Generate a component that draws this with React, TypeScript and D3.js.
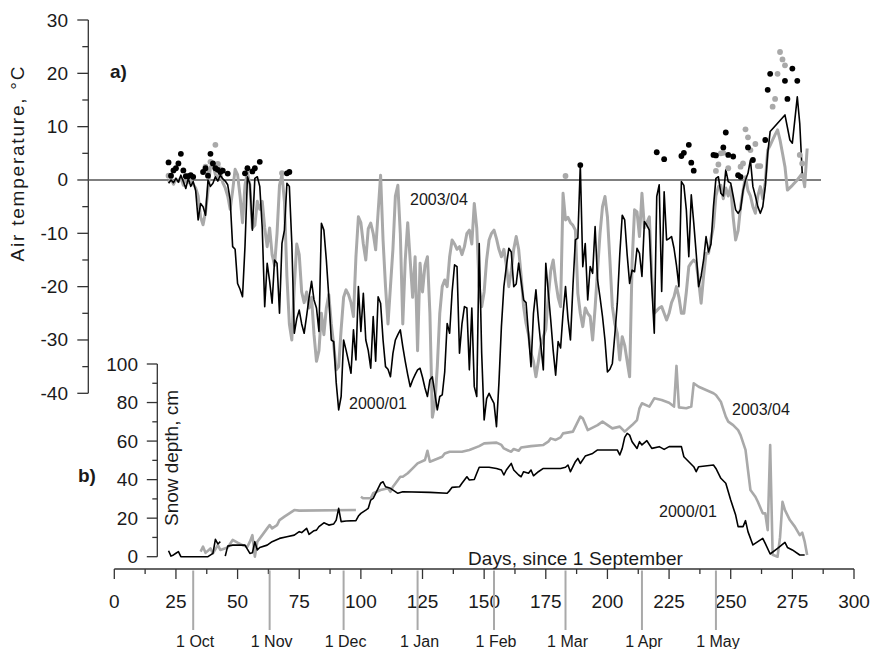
import React from 'react';
import * as d3 from 'd3';

type P = [number, number | null];

// ---------- axis / label data ----------
const xTicks = [0, 25, 50, 75, 100, 125, 150, 175, 200, 225, 250, 275, 300];
const tempTicks = [-40, -30, -20, -10, 0, 10, 20, 30];
const snowTicks = [0, 20, 40, 60, 80, 100];
const monthLabels = ['1 Oct', '1 Nov', '1 Dec', '1 Jan', '1 Feb', '1 Mar', '1 Apr', '1 May'];
const monthDays = [32, 63, 93, 123, 154, 183, 214, 244];

// ---------- air temperature, 2000/01 (black) ----------
const tempBlack: P[] = [
  [22, -0.6], [23, 0], [24, -0.5], [25, 0.3], [26, -0.4], [27, 0.9], [28, -0.3], [29, -1.6], [30, 0.3],
  [31, -1.2], [32, -0.3], [33, -2], [34, -7.5], [35, -4.4], [36, -5], [37, -6.6], [38, 0], [39, -1.2],
  [40, -0.6], [41, 0.6], [42, -0.2], [43, 0.9], [44, 0.2], [45, -0.2], [46, -0.9], [47, -3.75], [48, -12.5],
  [49, -13], [50, -19.4], [51, -20.5], [52, -21.9], [53, -12.5], [54, 0.6], [55, -0.8], [56, -9.4], [57, 0.3],
  [58, 0.6], [59, -1.2], [60, -9], [61, -23.75], [62, -15.6], [63, -19], [64, -23.1], [65, -15], [66, -15.6],
  [67, -25], [68, -11.9], [69, -9.4], [70, -0.6], [71, -1.2], [72, -11.9], [73, -28.75], [74, -26], [75, -24.4],
  [76, -27], [77, -28.75], [78, -25.5], [79, -22], [80, -19], [81, -22.5], [82, -24], [83, -28.4], [84, -8.1],
  [85, -9.4], [86, -15], [87, -21.9], [88, -30], [89, -30.3], [90, -38], [91, -43.1], [92, -40.6], [93, -30],
  [94, -31.9], [95, -34], [96, -36.25], [97, -28.1], [98, -33.75], [99, -20], [100, -28.4], [101, -21.25],
  [102, -30], [103, -32], [104, -35.3], [105, -25.6], [106, -34], [107, -21.9], [108, -23.1], [109, -30],
  [110, -35], [111, -35.5], [112, -36.9], [113, -32.5], [114, -30], [115, -29], [116, -28.1], [117, -31.25],
  [118, -34], [119, -36.5], [120, -38.75], [121, -37.5], [122, -36.5], [123, -35.6], [124, -35.3], [125, -37],
  [126, -39], [127, -40.6], [128, -37.5], [129, -36.9], [130, -40], [131, -43.1], [132, -40.6], [133, -40.3],
  [134, -36], [135, -26.9], [136, -28.75], [137, -21], [138, -15.9], [139, -16.25], [140, -32.5], [141, -27],
  [142, -23.75], [143, -24], [144, -35.6], [145, -24], [146, -38.75], [147, -40.6], [148, -11.9], [149, -32.5],
  [150, -45], [151, -41], [152, -40], [153, -41], [154, -41.9], [155, -46.25], [156, -38], [157, -27.5],
  [158, -20], [159, -16.25], [160, -12.8], [161, -13.5], [162, -20], [163, -19.5], [164, -15.6], [165, -19],
  [166, -22.5], [167, -23], [168, -29], [169, -35], [170, -25], [171, -20.6], [172, -26.25], [173, -31],
  [174, -35.6], [175, -15.6], [176, -21], [177, -26.25], [178, -32], [179, -36.6], [180, -30.3], [181, -31.5],
  [182, -25], [183, -20], [184, -26], [185, -30], [186, -20], [187, -11.25], [188, -10.9], [189, 2.8],
  [190, -16.25], [191, -11.9], [192, -22.5], [193, -16.25], [194, -17.5], [195, -8.75], [196, -18.75],
  [197, -22], [198, -25.6], [199, -30], [200, -36], [201, -35.5], [202, -34.4], [203, -29], [204, -23.1],
  [205, -14], [206, -6.6], [207, -7.5], [208, -14], [209, -19.4], [210, -16.9], [211, -17.2], [212, -12.8],
  [213, -13.75], [214, -18.1], [215, -7.8], [216, -8.5], [217, -9.4], [218, -20], [219, -28.75], [220, -3.1],
  [221, -0.9], [222, -20.9], [223, -2.2], [224, -11.25], [225, -11], [226, -10.6], [227, -12.8], [228, -16],
  [229, -20], [230, -0.3], [231, -1], [232, -5.6], [233, -14.4], [234, -2.8], [235, -8], [236, -13.75],
  [237, -20], [238, -18], [239, -15], [240, -10.6], [241, -13.5], [242, -12], [243, -5], [244, 0.3],
  [245, 0.6], [246, -2.5], [247, -3], [248, 1.9], [249, -0.3], [250, -0.6], [251, -3], [252, -5.6],
  [253, -6.25], [254, -5.5], [255, -2], [256, 0], [257, 1.25], [258, 3.75], [259, -1.25], [260, -3],
  [261, -5], [262, -6.25], [263, -5], [264, -1.25], [265, 5], [266, 9.1], [272, 12.2], [274, 7.5],
  [275, 6.9], [277, 15.6], [278, 10.6], [279, 1.25],
];

// ---------- air temperature, 2003/04 (grey) ----------
const tempGrey: P[] = [
  [22, -0.5], [23, 0.3], [24, -0.8], [25, 0.2], [26, -0.3], [27, 0.5], [28, -1], [29, 0.2], [30, -0.5],
  [31, 0], [32, -0.8], [33, -1.5], [34, -3], [35, -7], [36, -8.4], [37, -6], [38, -2], [39, 2.5], [40, 3],
  [41, 1], [42, 0.5], [43, 1.5], [44, -0.5], [45, -1.5], [46, -3], [47, -5.5], [48, -2], [49, 2], [50, 1],
  [51, -3], [52, -8], [53, -1], [54, 1.5], [55, -1], [56, -9], [57, -8.5], [58, -4], [59, -5.5], [60, -4],
  [61, -9], [62, -12.5], [63, -9], [64, -14], [65, -16], [66, -10], [67, -1], [68, 1], [69, -4], [70, -18],
  [71, -27], [72, -30], [73, -20], [74, -12], [75, -14], [76, -21], [77, -23], [78, -21], [79, -24], [80, -22],
  [81, -29], [82, -34], [83, -32], [84, -25], [85, -29], [86, -24], [87, -21.5], [88, -27], [89, -31],
  [90, -35.6], [91, -35], [92, -28], [93, -22], [94, -20.6], [95, -21.5], [96, -23], [97, -25.6], [98, -14.4],
  [99, -6.9], [100, -8], [101, -12], [102, -15], [103, -9.1], [104, -8.1], [105, -10], [106, -13.1], [107, -6],
  [108, 0.9], [109, -11.25], [110, -20], [111, -27], [112, -20], [113, -13], [114, -3], [115, -1], [116, -10],
  [117, -27], [118, -15], [119, -8], [120, -15], [121, -22], [122, -14.4], [123, -32], [124, -15.6], [125, -21],
  [126, -16], [127, -14.4], [128, -25], [129, -44.5], [130, -42], [131, -35], [132, -25], [133, -20],
  [134, -18.75], [135, -20], [136, -14.4], [137, -11.25], [138, -12], [139, -13], [140, -12.5], [141, -14],
  [142, -12.5], [143, -10], [144, -9.4], [145, -12], [146, -4.4], [147, -9], [148, -20], [149, -23.75],
  [150, -21], [151, -15], [152, -11.25], [153, -10], [154, -9.4], [155, -11], [156, -13], [157, -14.4],
  [158, -13], [159, -16], [160, -20], [161, -17], [162, -13], [163, -10.6], [164, -13], [165, -18],
  [166, -23.75], [167, -26.9], [168, -29], [169, -32.5], [170, -34], [171, -36.9], [172, -34], [173, -31],
  [174, -29.4], [175, -28], [176, -22], [177, -17], [178, -15], [179, -19], [180, -22], [181, -23.75],
  [182, -2.5], [183, -7.5], [184, -7], [185, -8], [186, -8.5], [187, -9.4], [188, -21.25], [189, -25],
  [190, -27.5], [191, -24], [192, -25], [193, -25.6], [194, -30], [195, -24], [196, -16.9], [197, -10],
  [198, -5], [199, -3.1], [200, -6.9], [201, -15], [202, -23.75], [203, -27], [204, -28.75], [205, -33.75],
  [206, -29.4], [207, -31], [208, -34], [209, -36.9], [210, -15.6], [211, -5.6], [212, -6], [213, -10.6],
  [214, -2.5], [215, -9], [216, -8], [217, -6.9], [218, -18.1], [219, -25], [220, -24.5], [221, -24],
  [222, -23.75], [223, -25], [224, -26.25], [225, -25], [226, -23], [227, -21.9], [228, -20], [229, -22],
  [230, -25], [231, -25], [232, -21], [233, -16.25], [234, -15.5], [235, -15], [236, -15.5], [237, -19],
  [238, -23.1], [239, -18], [240, -13.75], [241, -13.75], [242, -11], [243, -8.75], [244, -3], [245, -1.25],
  [246, -1], [247, -3.5], [248, -1.5], [249, -3], [250, -1.25], [251, -7], [252, -11.25], [253, -9.5],
  [254, -5], [255, -2], [256, 0.6], [257, -2], [258, -3], [259, -5], [260, -6.25], [261, -3], [262, -1.25],
  [263, -3.5], [264, -0.5], [265, 5.6], [266, 6.5], [267, 7.5], [268, 8.5], [269, 9.4], [270, 7.5], [271, 5],
  [272, 2.5], [273, -1.9], [275, -1], [277, 0], [279, 1.25], [280, -1.25], [281, 5.9],
];

// ---------- positive temperatures (dots) ----------
const dotsBlack: [number, number][] = [
  [22, 3.3], [23, 0.8], [24, 1.8], [25, 2.2], [26, 3.1], [27, 4.9], [28, 1.8], [29, 0.7], [30, 0.7], [31, 0.9],
  [32, 0.6], [36, 1.5], [37, 2.2], [38, 0.8], [39, 4.9], [40, 3.1], [41, 2.2], [42, 1.9], [43, 1.5], [44, 1.75],
  [46, 1.2], [53, 1.25], [54, 2.2], [56, 1.6], [57, 2.2], [59, 3.4], [70, 1.25], [71, 1.5], [189, 2.8],
  [220, 5.2], [223, 3.9], [230, 4.5], [231, 5.1], [233, 6.6], [234, 3.25], [235, 1.75], [243, 4.7], [244, 4.6],
  [247, 6.1], [248, 8.9], [249, 4.7], [251, 4.4], [253, 0.9], [254, 0.6], [257, 6.1], [259, 3.75], [264, 7.5],
  [265, 16.9], [266, 19.9], [272, 18.6], [273, 15.2], [275, 20.9], [277, 18.6],
];
const dotsGrey: [number, number][] = [
  [22, 0.8], [37, 2.5], [38, 1.5], [39, 3.4], [41, 6.6], [42, 3], [43, 2], [68, 1.3], [183, 0.75],
  [244, 1.7], [245, 2.9], [246, 5], [247, 5.1], [249, 2.2], [254, 2.5], [255, 3.1], [256, 9.5], [257, 8],
  [258, 5.6], [260, 6.75], [261, 2.6], [262, 2.6], [267, 13.75], [268, 15.2], [269, 19.9], [270, 24],
  [271, 22.6], [272, 21.5], [278, 4.7], [279, 3.1],
];

// ---------- snow depth ----------
const snowBlack: P[] = [
  [22, 3.1], [23, 0.3], [24, 0.9], [25, 1.8], [26, 2.6], [27, 0], [38, 0], [40, 1.7], [41, 9], [42, 6.6],
  [43, 7.8], [44, null], [45, 0.3], [46, 5.5], [48, 6], [53, 6], [55, 1.7], [56, 2], [57, 7.8], [58, 3.5],
  [59, 4.8], [62, 6], [64, 7.8], [67, 9.5], [70, 10.4], [73, 11.2], [75, 13], [76, 12.5], [78, 14.7],
  [79, 11.6], [81, 13.5], [82, 13.8], [83, 15.6], [85, 17.6], [87, 16.4], [89, 17], [90, 19], [91, 25.1],
  [92, 18.2], [94, 18.5], [98, 18.7], [99, 21.1], [100, 22.5], [102, 24.2], [103, 25.1], [104, 29.4],
  [105, 30.3], [106, 32.9], [108, 38.1], [109, 38.9], [110, 36.3], [112, 35.5], [115, 32.9], [117, 33.7],
  [128, 33.4], [135, 32.9], [136, 34.3], [137, 36], [140, 36.3], [141, 38.1], [143, 41.5], [144, 39.8],
  [146, 40.1], [147, 43.3], [148, 46.4], [152, 46.4], [155, 45.8], [157, 45], [158, 42.4], [159, 45],
  [161, 48.4], [162, 45], [164, 42.4], [165, 41.5], [166, 44.1], [168, 43.3], [169, 45], [170, 42],
  [172, 44.1], [174, 45.8], [181, 45.8], [183, 46.4], [184, 47.6], [185, 44.1], [187, 49.3], [188, 51],
  [189, 48.4], [191, 52.2], [194, 53.6], [196, 55.4], [204, 55.4], [205, 52.8], [206, 56.2], [207, 61.9],
  [208, 64], [209, 63.1], [210, 59.7], [212, 56.2], [213, 59.7], [214, 58], [216, 60.2], [218, 56.2],
  [221, 57.1], [223, 55.7], [225, 57.1], [230, 57.1], [231, 51.9], [233, 49.3], [235, 46.7], [236, 44.1],
  [237, 46.7], [243, 47.6], [244, 45.8], [246, 40.7], [248, 38.1], [250, 29.4], [252, 21.6], [253, 15.6],
  [255, 15.6], [256, 18.7], [257, 13], [259, 6.1], [261, 7.8], [263, 9.5], [264, 6.9], [266, 1.4], [269, 4.3],
  [272, 7.4], [273, 4.8], [275, 3.5], [278, 0.9], [280, 0.9],
];
const snowGrey: P[] = [
  [35, 2.6], [36, 5.2], [37, 2], [39, 4.3], [40, 1.7], [42, 6], [43, 3.5], [46, 4.8], [48, 8.7], [50, 7.3],
  [52, 6], [54, 5.2], [55, 7.8], [56, 11.2], [57, 0], [58, 7.8], [60, 11.2], [62, 14.7], [63, 16.4], [64, 14.7],
  [66, 16.4], [67, 19], [69, 20.8], [71, 22.5], [73, 24.2], [75, 23.9], [98, 24.2], [99, null], [100, 31.1],
  [101, 30.3], [104, 30.3], [105, 32.9], [108, 34.6], [111, 35.5], [112, 33.7], [113, 36.3], [114, 38],
  [116, 41.5], [117, 41.5], [119, 43.3], [121, 45.8], [123, 48.4], [126, 50.2], [127, 55], [128, 49.3],
  [133, 51.9], [134, 53.6], [136, 54.5], [141, 54.5], [144, 55.4], [148, 57.4], [150, 58.8], [155, 59.2],
  [157, 58], [158, 56.2], [160, 55], [161, 54.5], [162, 55.9], [164, 55], [165, 56.7], [169, 57.4], [174, 58],
  [176, 59.7], [177, 61.4], [179, 60.6], [181, 61.9], [182, 64], [186, 64.9], [189, 72.7], [190, 71.8],
  [192, 65.7], [196, 68.3], [198, 70.1], [202, 66.6], [205, 67.5], [207, 64.9], [210, 68.3], [212, 70.9],
  [213, 77], [214, 79.6], [217, 77.9], [219, 82.2], [222, 81.3], [225, 79.9], [227, 77.9], [228, 99],
  [229, 77.5], [232, 77], [234, 77.9], [235, 90], [237, 88.2], [240, 86.5], [243, 84.8], [244, 83.9],
  [246, 80.4], [248, 72.7], [249, 70.1], [251, 68.3], [253, 65.7], [254, 63.1], [256, 55.4], [257, 45],
  [258, 34.6], [260, 31.1], [261, 28.5], [263, 22.5], [264, 22.5], [265, 13.8], [266, 58], [267, 1], [269, 0],
  [270, 10], [271, 28.5], [272, 24.2], [274, 19], [276, 15.6], [278, 11.2], [279, 12.5], [280, 7.8], [281, 0.9],
];

const FONT = "'Liberation Sans', Arial, Helvetica, sans-serif";
const AXIS = '#333';
const GREY = '#a9a9a9';
const TXT = '#1a1a1a';

export default function App() {
  const x = d3.scaleLinear().domain([0, 300]).range([114.3, 854]);
  const yT = d3.scaleLinear().domain([-40, 30]).range([393.3, 20]);
  const yS = d3.scaleLinear().domain([0, 100]).range([556.7, 364]);

  const lineT = d3.line<P>().defined((d) => d[1] !== null).x((d) => x(d[0])).y((d) => yT(d[1] as number));
  const lineS = d3.line<P>().defined((d) => d[1] !== null).x((d) => x(d[0])).y((d) => yS(d[1] as number));

  const tAxisX = 88.3;
  const sAxisX = 157.3;
  const xAxisY = 569;

  const tMinor = d3.range(-35, 30, 10);
  const sMinor = d3.range(10, 100, 20);
  const xMinor = d3.range(12.5, 300, 25);

  return (
    <svg width={871} height={649} viewBox="0 0 871 649"
      style={{ position: 'absolute', left: 0, top: 0, background: '#fff' }}
      fontFamily={FONT}>
      <rect x={0} y={0} width={871} height={649} fill="#fff" />

      {/* ---------- top panel: air temperature ---------- */}
      <line x1={tAxisX} x2={tAxisX} y1={yT(30)} y2={yT(-40)} stroke={AXIS} strokeWidth={1.3} />
      {tempTicks.map((t) => (
        <g key={'tt' + t}>
          <line x1={tAxisX - 11} x2={tAxisX} y1={yT(t)} y2={yT(t)} stroke={AXIS} strokeWidth={1.3} />
          <text x={68} y={yT(t) + 6.5} textAnchor="end" fontSize={19} fill={TXT}>{t}</text>
        </g>
      ))}
      {tMinor.map((t) => (
        <line key={'tm' + t} x1={tAxisX - 6} x2={tAxisX} y1={yT(t)} y2={yT(t)} stroke={AXIS} strokeWidth={1.3} />
      ))}
      <line x1={tAxisX} x2={821} y1={yT(0)} y2={yT(0)} stroke="#555" strokeWidth={1.4} />

      <path d={lineT(tempGrey) || ''} fill="none" stroke={GREY} strokeWidth={3} strokeLinejoin="round" />
      <path d={lineT(tempBlack) || ''} fill="none" stroke="#000" strokeWidth={1.6} strokeLinejoin="round" />
      {dotsGrey.map((d, i) => (
        <circle key={'dg' + i} cx={x(d[0])} cy={yT(d[1])} r={2.9} fill={GREY} />
      ))}
      {dotsBlack.map((d, i) => (
        <circle key={'db' + i} cx={x(d[0])} cy={yT(d[1])} r={2.9} fill="#000" />
      ))}

      <text transform="translate(24,164) rotate(-90)" textAnchor="middle" fontSize={19} fill={TXT}
        textLength={195} lengthAdjust="spacing">Air temperature, °C</text>
      <text x={110} y={78} fontSize={19} fontWeight="bold" fill={TXT}>a)</text>
      <text x={410} y={205} fontSize={16} fill={TXT}>2003/04</text>
      <text x={349} y={409} fontSize={16} fill={TXT}>2000/01</text>

      {/* ---------- bottom panel: snow depth ---------- */}
      <line x1={sAxisX} x2={sAxisX} y1={yS(100)} y2={yS(0)} stroke={AXIS} strokeWidth={1.3} />
      {snowTicks.map((s) => (
        <g key={'st' + s}>
          <line x1={sAxisX - 10.5} x2={sAxisX} y1={yS(s)} y2={yS(s)} stroke={AXIS} strokeWidth={1.3} />
          <text x={138} y={yS(s) + 6.5} textAnchor="end" fontSize={19} fill={TXT}>{s}</text>
        </g>
      ))}
      {sMinor.map((s) => (
        <line key={'sm' + s} x1={sAxisX - 5} x2={sAxisX} y1={yS(s)} y2={yS(s)} stroke={AXIS} strokeWidth={1.3} />
      ))}

      <path d={lineS(snowGrey) || ''} fill="none" stroke={GREY} strokeWidth={2.6} strokeLinejoin="round" />
      <path d={lineS(snowBlack) || ''} fill="none" stroke="#000" strokeWidth={1.6} strokeLinejoin="round" />

      <text transform="translate(178,458) rotate(-90)" textAnchor="middle" fontSize={19} fill={TXT}
        textLength={136} lengthAdjust="spacing">Snow depth, cm</text>
      <text x={78} y={482} fontSize={19} fontWeight="bold" fill={TXT}>b)</text>
      <text x={732} y={415} fontSize={16} fill={TXT}>2003/04</text>
      <text x={659} y={517} fontSize={16} fill={TXT}>2000/01</text>

      {/* ---------- x axis ---------- */}
      <line x1={x(0)} x2={x(300)} y1={xAxisY} y2={xAxisY} stroke={AXIS} strokeWidth={1.3} />
      {xTicks.map((d) => (
        <g key={'xt' + d}>
          <line x1={x(d)} x2={x(d)} y1={xAxisY} y2={xAxisY + 10} stroke={AXIS} strokeWidth={1.3} />
          <text x={x(d)} y={608} textAnchor="middle" fontSize={19} fill={TXT}>{d}</text>
        </g>
      ))}
      {xMinor.map((d) => (
        <line key={'xm' + d} x1={x(d)} x2={x(d)} y1={xAxisY} y2={xAxisY + 5} stroke={AXIS} strokeWidth={1.3} />
      ))}
      <text x={575.4} y={565} textAnchor="middle" fontSize={19} fill={TXT}
        textLength={215} lengthAdjust="spacing">Days, since 1 September</text>

      {monthDays.map((d, i) => (
        <g key={'m' + d}>
          <line x1={x(d)} x2={x(d)} y1={xAxisY + 1.5} y2={630} stroke={GREY} strokeWidth={2} />
          <text x={x(d) + 2} y={647} textAnchor="middle" fontSize={16} fill={TXT}>{monthLabels[i]}</text>
        </g>
      ))}
    </svg>
  );
}
